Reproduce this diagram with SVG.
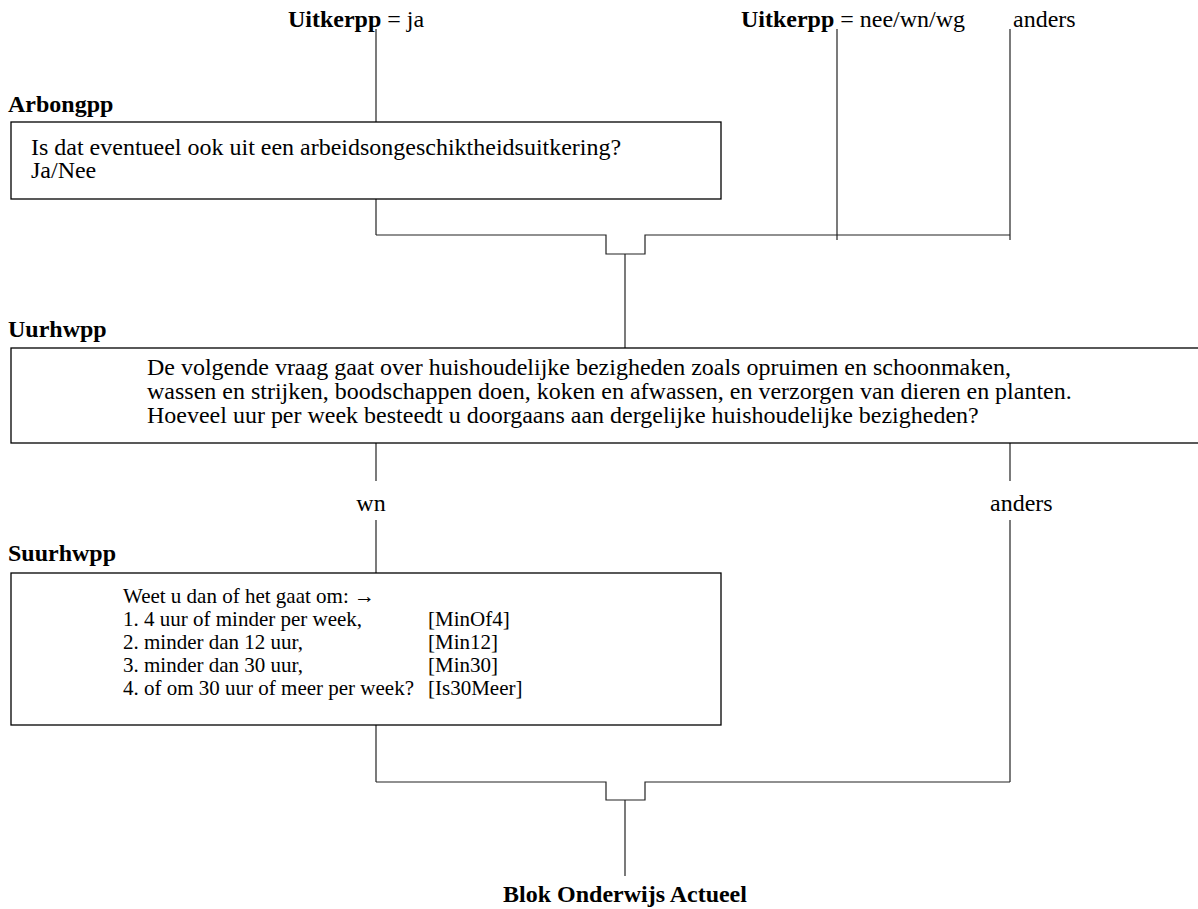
<svg xmlns="http://www.w3.org/2000/svg" width="1198" height="909" viewBox="0 0 1198 909">
<style>
text{font-family:"Liberation Serif","Times New Roman",serif;font-size:24px;fill:#000}
.b{font-weight:bold}
.s{font-size:21px}
.box{fill:#fff;stroke:#000;stroke-width:1.3}
.c{fill:none;stroke:#222;stroke-width:1.2}
</style>
<rect width="1198" height="909" fill="#fff"/>
<g id="connectors">
<line class="c" x1="376" y1="29" x2="376" y2="122"/>
<line class="c" x1="837" y1="29" x2="837" y2="240"/>
<line class="c" x1="1010" y1="29" x2="1010" y2="240"/>
<line class="c" x1="376" y1="199" x2="376" y2="235"/>
<path class="c" d="M376 235 H606 V254 H645 V235 H1010"/>
<line class="c" x1="625" y1="254" x2="625" y2="348"/>
<line class="c" x1="376" y1="443" x2="376" y2="481"/>
<line class="c" x1="1010" y1="443" x2="1010" y2="481"/>
<line class="c" x1="376" y1="520" x2="376" y2="573"/>
<line class="c" x1="1010" y1="520" x2="1010" y2="782"/>
<line class="c" x1="376" y1="725" x2="376" y2="782"/>
<path class="c" d="M376 782 H606 V800 H645 V782 H1010"/>
<line class="c" x1="625" y1="800" x2="625" y2="876"/>
</g>
<g id="cond-ja"><text transform="translate(288,27) scale(1,0.92)"><tspan class="b">Uitkerpp</tspan> = ja</text></g>
<g id="cond-nee"><text transform="translate(741,27) scale(1,0.92)"><tspan class="b">Uitkerpp</tspan> = nee/wn/wg</text></g>
<g id="cond-anders1"><text transform="translate(1013,27) scale(1,0.92)">anders</text></g>
<g id="Arbongpp">
<text class="b" transform="translate(8,112) scale(1,0.92)">Arbongpp</text>
<rect class="box" x="11" y="122" width="710" height="77"/>
<text transform="translate(31,155) scale(1,0.92)"><tspan x="0" y="0">Is dat eventueel ook uit een arbeidsongeschiktheidsuitkering?</tspan><tspan x="0" y="25">Ja/Nee</tspan></text>
</g>
<g id="Uurhwpp">
<text class="b" transform="translate(8,337) scale(1,0.92)">Uurhwpp</text>
<rect class="box" x="11" y="348" width="1200" height="95"/>
<text transform="translate(147,375) scale(1,0.92)"><tspan x="0" y="0">De volgende vraag gaat over huishoudelijke bezigheden zoals opruimen en schoonmaken,</tspan><tspan x="0" y="26.1">wassen en strijken, boodschappen doen, koken en afwassen, en verzorgen van dieren en planten.</tspan><tspan x="0" y="52.2">Hoeveel uur per week besteedt u doorgaans aan dergelijke huishoudelijke bezigheden?</tspan></text>
</g>
<g id="cond-wn"><text text-anchor="middle" transform="translate(371,511) scale(1,0.92)">wn</text></g>
<g id="cond-anders2"><text transform="translate(990,511) scale(1,0.92)">anders</text></g>
<g id="Suurhwpp">
<text class="b" transform="translate(8,561) scale(1,0.92)">Suurhwpp</text>
<rect class="box" x="11" y="573" width="710" height="152"/>
<text class="s"><tspan x="123" y="603">Weet u dan of het gaat om: →</tspan><tspan x="123" y="626">1. 4 uur of minder per week,</tspan><tspan x="428" y="626">[MinOf4]</tspan><tspan x="123" y="649">2. minder dan 12 uur,</tspan><tspan x="428" y="649">[Min12]</tspan><tspan x="123" y="672">3. minder dan 30 uur,</tspan><tspan x="428" y="672">[Min30]</tspan><tspan x="123" y="695">4. of om 30 uur of meer per week?</tspan><tspan x="428" y="695">[Is30Meer]</tspan></text>
</g>
<g id="end"><text class="b" text-anchor="middle" transform="translate(625,902) scale(1,0.92)">Blok Onderwijs Actueel</text></g>
</svg>
